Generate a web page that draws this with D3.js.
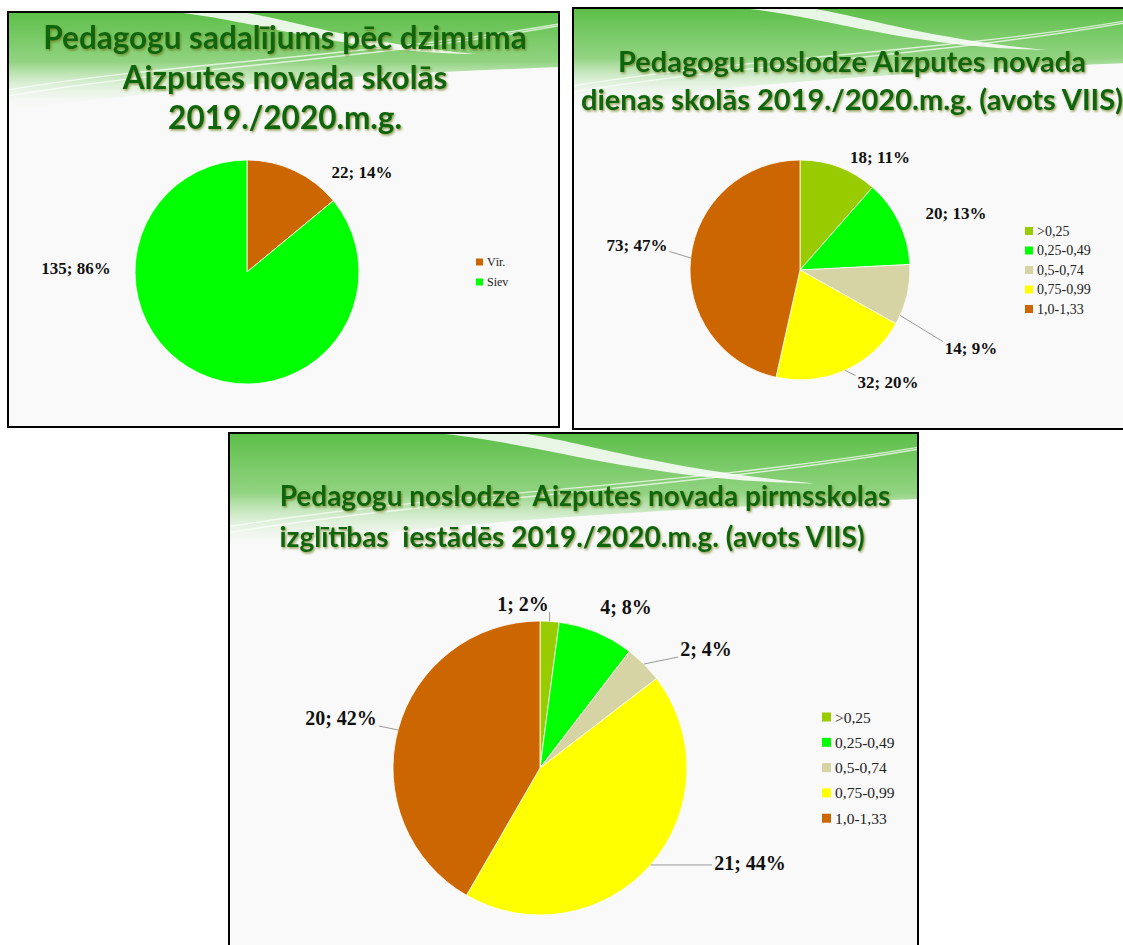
<!DOCTYPE html>
<html>
<head>
<meta charset="utf-8">
<script src="https://cdn.jsdelivr.net/npm/d3@7"></script>
<style>
  body { margin: 0; background: #fff; }
  svg { display: block; }
  .title { font-family: Lato, 'Open Sans', sans-serif; font-weight: 700; fill: #0b660b; white-space: pre; }
  .lbl { font-family: 'Liberation Serif', 'DejaVu Serif', serif; font-weight: 700; fill: #111; }
  .leg { font-family: 'Liberation Serif', 'DejaVu Serif', serif; fill: #222; }
</style>
</head>
<body>
<svg id="svg0" width="1123" height="945"></svg>
<script>
// ---- data ----
var gender_cats = ['Vīr.', 'Siev'];
var gender_values = [22, 135];
var gender_pct = [14, 86];
var gender_colors = ['#cc6600', '#00ff00'];

var load_cats = ['>0,25', '0,25-0,49', '0,5-0,74', '0,75-0,99', '1,0-1,33'];
var school_values = [18, 20, 14, 32, 73];
var school_pct = [11, 13, 9, 20, 47];
var preschool_values = [1, 4, 2, 21, 20];
var preschool_pct = [2, 8, 4, 44, 42];
var load_colors = ['#99cc00', '#00ff00', '#d6d3a4', '#ffff00', '#cc6600'];

var title1 = ['Pedagogu sadalījums pēc dzimuma', 'Aizputes novada skolās', '2019./2020.m.g.'];
var title2 = ['Pedagogu noslodze Aizputes novada', 'dienas skolās 2019./2020.m.g. (avots VIIS)'];
var title3 = ['Pedagogu noslodze  Aizputes novada pirmsskolas', 'izglītības  iestādēs 2019./2020.m.g. (avots VIIS)'];

var svg0 = d3.select('#svg0');
var defs = svg0.append('defs');

var hg = defs.append('linearGradient').attr('id', 'hdr').attr('x1', 0).attr('y1', 0).attr('x2', 0).attr('y2', 1);
hg.append('stop').attr('offset', '0%').attr('stop-color', '#5cbf48').attr('stop-opacity', 1);
hg.append('stop').attr('offset', '50%').attr('stop-color', '#86cf74').attr('stop-opacity', 0.9);
hg.append('stop').attr('offset', '100%').attr('stop-color', '#ffffff').attr('stop-opacity', 0);

var sh = defs.append('filter').attr('id', 'tshadow').attr('x', '-5%').attr('y', '-20%').attr('width', '110%').attr('height', '150%');
sh.append('feDropShadow').attr('dx', 1.2).attr('dy', 1.5).attr('stdDeviation', 0.9)
  .attr('flood-color', '#6b7a1a').attr('flood-opacity', 0.75);

function drawPanel(cfg) {
  var g = svg0.append('g').attr('transform', 'translate(' + cfg.x + ',' + cfg.y + ')');
  var w = cfg.w, h = cfg.h;
  g.append('rect').attr('width', w).attr('height', h).attr('fill', '#f9f9f9');

  // header swoosh
  var hh = cfg.hdr;
  g.append('path')
    .attr('d', 'M0,0 H' + w + ' V' + (hh * 0.55) + ' C' + (w * 0.7) + ',' + (hh * 0.62) + ' ' + (w * 0.35) + ',' + (hh * 0.7) + ' 0,' + hh + ' Z')
    .attr('fill', 'url(#hdr)');
  g.append('path')
    .attr('d', 'M' + (w * 0.3) + ',0 C' + (w * 0.45) + ',' + (hh * 0.08) + ' ' + (w * 0.6) + ',' + (hh * 0.4) + ' ' + (w * 0.85) + ',' + (hh * 0.42)
      + ' C' + (w * 0.62) + ',' + (hh * 0.3) + ' ' + (w * 0.5) + ',' + (hh * 0.05) + ' ' + (w * 0.42) + ',0 Z')
    .attr('fill', '#ffffff').attr('opacity', 0.85);
  [0, 6].forEach(function(o) {
    g.append('path')
      .attr('d', 'M0,' + (hh * 0.78 + o) + ' C' + (w * 0.3) + ',' + (hh * 0.5 + o) + ' ' + (w * 0.65) + ',' + (hh * 0.45 + o * 0.5) + ' ' + w + ',' + (hh * 0.12 + o * 0.3))
      .attr('fill', 'none').attr('stroke', '#ffffff').attr('stroke-width', 1.4).attr('opacity', 0.7);
  });

  // title
  g.selectAll('.title').data(cfg.title).enter().append('text').attr('class', 'title')
    .attr('x', (d, i) => cfg.tx[i]).attr('y', (d, i) => cfg.ty + i * cfg.tdy)
    .attr('text-anchor', 'middle').attr('font-size', cfg.tsize)
    .attr('filter', 'url(#tshadow)')
    .text(d => d);

  // pie
  var data = cfg.values.map((v, i) => ({ cat: cfg.cats[i], v: v, pct: cfg.pct[i], col: cfg.colors[i], lab: cfg.labels[i] }));
  var pie = d3.pie().sort(null).value(d => d.v);
  var arcs = pie(data);
  var arc = d3.arc().innerRadius(0).outerRadius(cfg.r);
  var pg = g.append('g').attr('transform', 'translate(' + cfg.cx + ',' + cfg.cy + ')');
  pg.selectAll('path.slice').data(arcs).enter().append('path').attr('class', 'slice')
    .attr('d', arc).attr('fill', d => d.data.col).attr('stroke', '#ffffff').attr('stroke-width', 0.8);

  // labels
  var lt = pg.selectAll('text.lbl').data(arcs).enter().append('text').attr('class', 'lbl')
    .attr('x', d => d.data.lab[0]).attr('y', d => d.data.lab[1])
    .attr('text-anchor', 'middle').attr('dominant-baseline', 'central')
    .attr('font-size', cfg.lsize)
    .text(d => d.data.v + '; ' + d.data.pct + '%');

  lt.each(function(d) {
    if (!d.data.lab[2]) return;
    var b = this.getBBox();
    // leader starts at the slice edge, at a fraction of the way through the slice
    var a = d.startAngle + (d.endAngle - d.startAngle) * d.data.lab[3];
    var px = Math.sin(a) * cfg.r, py = -Math.cos(a) * cfg.r;
    var ex = Math.max(b.x - 2, Math.min(px, b.x + b.width + 2));
    var ey = Math.max(b.y + 3, Math.min(py, b.y + b.height - 3));
    pg.insert('line', 'text').attr('x1', px).attr('y1', py).attr('x2', ex).attr('y2', ey)
      .attr('stroke', '#9a9a9a').attr('stroke-width', 1);
  });

  // legend
  var lg = g.append('g').attr('transform', 'translate(' + cfg.lx + ',' + cfg.ly + ')');
  var items = lg.selectAll('g').data(data).enter().append('g')
    .attr('transform', (d, i) => 'translate(0,' + i * cfg.lstep + ')');
  items.append('rect').attr('x', 0).attr('y', -cfg.lsq / 2).attr('width', cfg.lsq).attr('height', cfg.lsq)
    .attr('fill', d => d.col);
  items.append('text').attr('class', 'leg').attr('x', cfg.lsq + 4).attr('y', 0)
    .attr('dominant-baseline', 'central').attr('font-size', cfg.lfont)
    .text(d => d.cat);

  g.append('rect').attr('width', w).attr('height', h).attr('fill', 'none')
    .attr('stroke', '#000').attr('stroke-width', 2);
}

drawPanel({
  x: 8, y: 12, w: 551, h: 415, hdr: 100,
  title: title1, tx: [277, 277, 277], ty: 37, tdy: 40, tsize: 31.5,
  cats: gender_cats, values: gender_values, pct: gender_pct, colors: gender_colors,
  labels: [[115, -100, false], [-171, -4, false]],
  cx: 239, cy: 260, r: 112, lsize: 17,
  lx: 468, ly: 250, lstep: 20, lsq: 7, lfont: 12
});

drawPanel({
  x: 573, y: 8, w: 558, h: 421, hdr: 100,
  title: title2, tx: [279, 279], ty: 64, tdy: 38, tsize: 29,
  cats: load_cats, values: school_values, pct: school_pct, colors: load_colors,
  labels: [[80, -113, false], [156, -57, false], [171, 78, true, 0.85], [88, 112, true, 0.5], [-163, -25, true, 0.5]],
  cx: 227, cy: 262, r: 110, lsize: 17,
  lx: 452, ly: 223, lstep: 19.5, lsq: 8, lfont: 14
});

drawPanel({
  x: 229, y: 433, w: 689, h: 520, hdr: 120,
  title: title3, tx: [356, 343], ty: 73, tdy: 41, tsize: 28,
  cats: load_cats, values: preschool_values, pct: preschool_pct, colors: load_colors,
  labels: [[-17, -164, true, 0.5], [86, -161, false], [166, -119, true, 0.5], [210, 95, true, 0.5], [-199, -50, true, 0.5]],
  cx: 311, cy: 335, r: 147, lsize: 20,
  lx: 593, ly: 284, lstep: 25.3, lsq: 9, lfont: 15.5
});
</script>
</body>
</html>
